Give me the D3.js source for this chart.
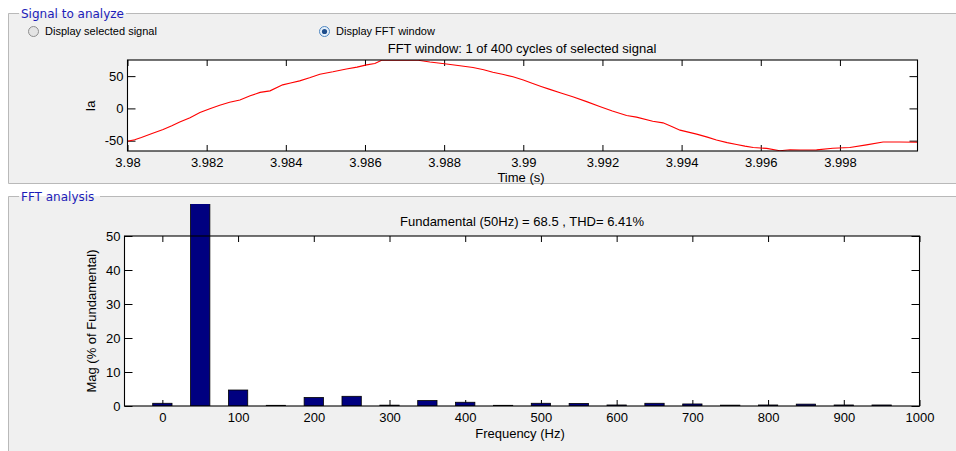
<!DOCTYPE html>
<html>
<head>
<meta charset="utf-8">
<script src="https://cdn.jsdelivr.net/npm/d3@7"></script>
<style>
  html, body { margin: 0; padding: 0; background: #ffffff; }
  svg { display: block; }
  text { font-family: "Liberation Sans", Arial, sans-serif; }
</style>
</head>
<body>
<svg id="fig" width="956" height="451"></svg>
<script>
// ---- Signal window: phase current Ia over one 50 Hz cycle ----
const timeS = [
  3.98000, 3.98018, 3.98035, 3.98062, 3.98090, 3.98112, 3.98132, 3.98158,
  3.98183, 3.98208, 3.98233, 3.98258, 3.98284, 3.98310, 3.98335, 3.98360,
  3.98392, 3.98412, 3.98435, 3.98460, 3.98486, 3.98519, 3.98553, 3.98580,
  3.98604, 3.98625, 3.98642, 3.98700, 3.98735, 3.98764, 3.98806, 3.98840,
  3.98873, 3.98900, 3.98923, 3.98950, 3.98974, 3.99000, 3.99024, 3.99045,
  3.99067, 3.99095, 3.99125, 3.99160, 3.99193, 3.99225, 3.99261, 3.99286,
  3.99327, 3.99353, 3.99375, 3.99396, 3.99438, 3.99465, 3.99488, 3.99515,
  3.99539, 3.99560, 3.99581, 3.99615, 3.99648, 3.99674, 3.99700, 3.99741,
  3.99782, 3.99825, 3.99867, 3.99909, 3.99950, 3.99996
];
const currentA = [
  -51.0, -48.5, -45.0, -39.0, -32.7, -27.0, -21.0, -14.5,
   -6.5,  -0.5,   5.0,   9.5,  13.0,  19.5,  24.8,  27.2,
   36.5,  39.5,  42.7,  47.5,  53.0,  56.7,  61.0,  64.0,
   67.5,  69.5,  74.5,  75.0,  74.5,  71.8,  68.7,  66.0,
   63.5,  60.0,  56.0,  52.5,  49.0,  44.0,  38.5,  34.0,
   29.5,  24.0,  18.0,  10.5,   3.0,  -4.0, -11.0, -13.5,
  -19.8, -22.4, -28.0, -33.7, -39.9, -44.5, -49.0, -53.0,
  -56.0, -58.5, -60.5, -62.0, -65.5, -64.0, -64.5, -64.2,
  -61.8, -60.5, -56.5, -52.0, -52.0, -52.5
];
const timeTicks = [3.98, 3.982, 3.984, 3.986, 3.988, 3.99, 3.992, 3.994, 3.996, 3.998];
const timeTickLabels = ["3.98", "3.982", "3.984", "3.986", "3.988", "3.99", "3.992", "3.994", "3.996", "3.998"];
const iaTicks = [-50, 0, 50];
const iaTickLabels = ["-50", "0", "50"];

// ---- FFT of the window: harmonic magnitudes in % of the fundamental ----
const freqHz = [0, 50, 100, 150, 200, 250, 300, 350, 400, 450,
                500, 550, 600, 650, 700, 750, 800, 850, 900, 950];
const magPct = [0.8, 100, 4.7, 0.2, 2.5, 2.85, 0.25, 1.6, 1.1, 0.2,
                0.8, 0.75, 0.3, 0.8, 0.6, 0.25, 0.3, 0.55, 0.3, 0.3];
const freqTicks = [0, 100, 200, 300, 400, 500, 600, 700, 800, 900, 1000];
const freqTickLabels = ["0", "100", "200", "300", "400", "500", "600", "700", "800", "900", "1000"];
const magTicks = [0, 10, 20, 30, 40, 50];
const magTickLabels = ["0", "10", "20", "30", "40", "50"];

const fundamentalHz = 50;
const fundamentalMag = 68.5;
const thdPct = 6.41;
const cyclesTotal = 400;

// ---------------------------------------------------------------
const svg = d3.select("#fig");
const panelFill = "#f0f0f0";
const panelLine = "#b9b9b9";
const legendBlue = "#1c1cb8";

// group boxes (uipanel look)
function groupBox(y, yEnd, title, gapEnd) {
  svg.append("rect").attr("x", 8).attr("y", y).attr("width", 948).attr("height", yEnd - y)
    .attr("fill", panelFill);
  const bottom = yEnd < 451 ? `V${yEnd + 0.5}H956` : `V451`;
  svg.append("path")
    .attr("d", `M19,${y + 0.5}H8.5${bottom}M${gapEnd},${y + 0.5}H956`)
    .attr("fill", "none").attr("stroke", panelLine).attr("stroke-width", 1);
  svg.append("text").attr("x", 21).attr("y", y + 5)
    .style("font-family", "'DejaVu Sans', Tahoma, sans-serif")
    .style("font-size", "12px").attr("fill", legendBlue).text(title);
}
groupBox(13, 183, "Signal to analyze", 126);
groupBox(196, 451, "FFT analysis", 100);

// radio buttons
function radio(cx, cy, label, selected) {
  const g = svg.append("g");
  g.append("circle").attr("cx", cx).attr("cy", cy).attr("r", 5)
    .attr("fill", selected ? "#e6f0fa" : "#e4e4e4")
    .attr("stroke", selected ? "#4f87c2" : "#8e8e8e").attr("stroke-width", 1);
  if (selected) {
    g.append("circle").attr("cx", cx).attr("cy", cy).attr("r", 2.6).attr("fill", "#1f4e8c");
  }
  g.append("text").attr("x", cx + 11.5).attr("y", cy + 3.6)
    .style("font-size", "11px").attr("fill", "#000").text(label);
}
radio(33.5, 31.5, "Display selected signal", false);
radio(324.5, 31.5, "Display FFT window", true);

// shared helpers for MATLAB-style boxed axes with inward ticks
function styleAxis(g) {
  g.select(".domain").remove();
  g.selectAll(".tick line").attr("stroke", "#000").attr("stroke-width", 1);
  g.selectAll(".tick text").attr("fill", "#000")
    .style("font-family", "'Liberation Sans', Arial, sans-serif").style("font-size", "13px");
}
function boxedAxes(x, y, xt, xl, yt, yl) {
  const [x0, x1] = x.range();
  const [y1, y0] = y.range();
  const g = svg.append("g");
  g.append("rect").attr("x", x0).attr("y", y0).attr("width", x1 - x0).attr("height", y1 - y0)
    .attr("fill", "#ffffff");
  const ax = svg.append("g");
  ax.append("g").attr("transform", `translate(0,${y1})`)
    .call(d3.axisBottom(x).tickValues(xt).tickSize(-6).tickPadding(6.5)
      .tickFormat((d, i) => xl[i])).call(styleAxis);
  ax.append("g").attr("transform", `translate(0,${y0})`)
    .call(d3.axisTop(x).tickValues(xt).tickSize(-6).tickFormat("")).call(styleAxis);
  ax.append("g").attr("transform", `translate(${x0},0)`)
    .call(d3.axisLeft(y).tickValues(yt).tickSize(-8).tickPadding(4)
      .tickFormat((d, i) => yl[i])).call(styleAxis);
  ax.append("g").attr("transform", `translate(${x1},0)`)
    .call(d3.axisRight(y).tickValues(yt).tickSize(-8).tickFormat("")).call(styleAxis);
  return ax;
}
function frame(x, y) {
  const [x0, x1] = x.range();
  const [y1, y0] = y.range();
  svg.append("rect").attr("x", x0).attr("y", y0).attr("width", x1 - x0).attr("height", y1 - y0)
    .attr("fill", "none").attr("stroke", "#000").attr("stroke-width", 1.1);
}

// ---- top axes: time signal ----
const xT = d3.scaleLinear().domain([3.98, 3.99996]).range([127.5, 917.5]);
const yT = d3.scaleLinear().domain([d3.min(currentA) - 0.5, d3.max(currentA)]).range([151, 60]);
boxedAxes(xT, yT, timeTicks, timeTickLabels, iaTicks, iaTickLabels);

svg.append("clipPath").attr("id", "clipTop").append("rect")
  .attr("x", 127.5).attr("y", 60).attr("width", 790).attr("height", 91);
const line = d3.line().x((d, i) => xT(timeS[i])).y(d => yT(d));
svg.append("path").datum(currentA).attr("d", line)
  .attr("clip-path", "url(#clipTop)")
  .attr("fill", "none").attr("stroke", "#ff0000").attr("stroke-width", 1.1);
frame(xT, yT);

svg.append("text").attr("x", 522).attr("y", 52.5).attr("text-anchor", "middle")
  .style("font-size", "13px").text(`FFT window: 1 of ${cyclesTotal} cycles of selected signal`);
svg.append("text").attr("x", 521).attr("y", 182).attr("text-anchor", "middle")
  .style("font-size", "13px").text("Time (s)");
svg.append("text").attr("transform", "translate(95,106) rotate(-90)").attr("text-anchor", "middle")
  .style("font-size", "13px").text("Ia");

// ---- bottom axes: harmonic spectrum ----
const xF = d3.scaleLinear().domain([-50, 1000]).range([124.5, 919.5]);
const yF = d3.scaleLinear().domain([0, 50]).range([406, 236]);
boxedAxes(xF, yF, freqTicks, freqTickLabels, magTicks, magTickLabels);

svg.append("clipPath").attr("id", "clipBars").append("rect")
  .attr("x", 124.5).attr("y", 204).attr("width", 795).attr("height", 202);
const barW = (xF(50) - xF(0)) * 0.51;
svg.append("g").attr("clip-path", "url(#clipBars)")
  .selectAll("rect").data(magPct).join("rect")
  .attr("x", (d, i) => xF(freqHz[i]) - barW / 2)
  .attr("width", barW)
  .attr("y", d => yF(d))
  .attr("height", d => yF(0) - yF(d))
  .attr("fill", "#000080").attr("stroke", "#000").attr("stroke-width", 0.8);
frame(xF, yF);

svg.append("text").attr("x", 522).attr("y", 225.5).attr("text-anchor", "middle")
  .style("font-size", "13px")
  .text(`Fundamental (${fundamentalHz}Hz) = ${fundamentalMag} , THD= ${thdPct}%`);
svg.append("text").attr("x", 520).attr("y", 438.3).attr("text-anchor", "middle")
  .style("font-size", "13px").text("Frequency (Hz)");
svg.append("text").attr("transform", "translate(96,321) rotate(-90)").attr("text-anchor", "middle")
  .style("font-size", "13px").text("Mag (% of Fundamental)");
</script>
</body>
</html>
